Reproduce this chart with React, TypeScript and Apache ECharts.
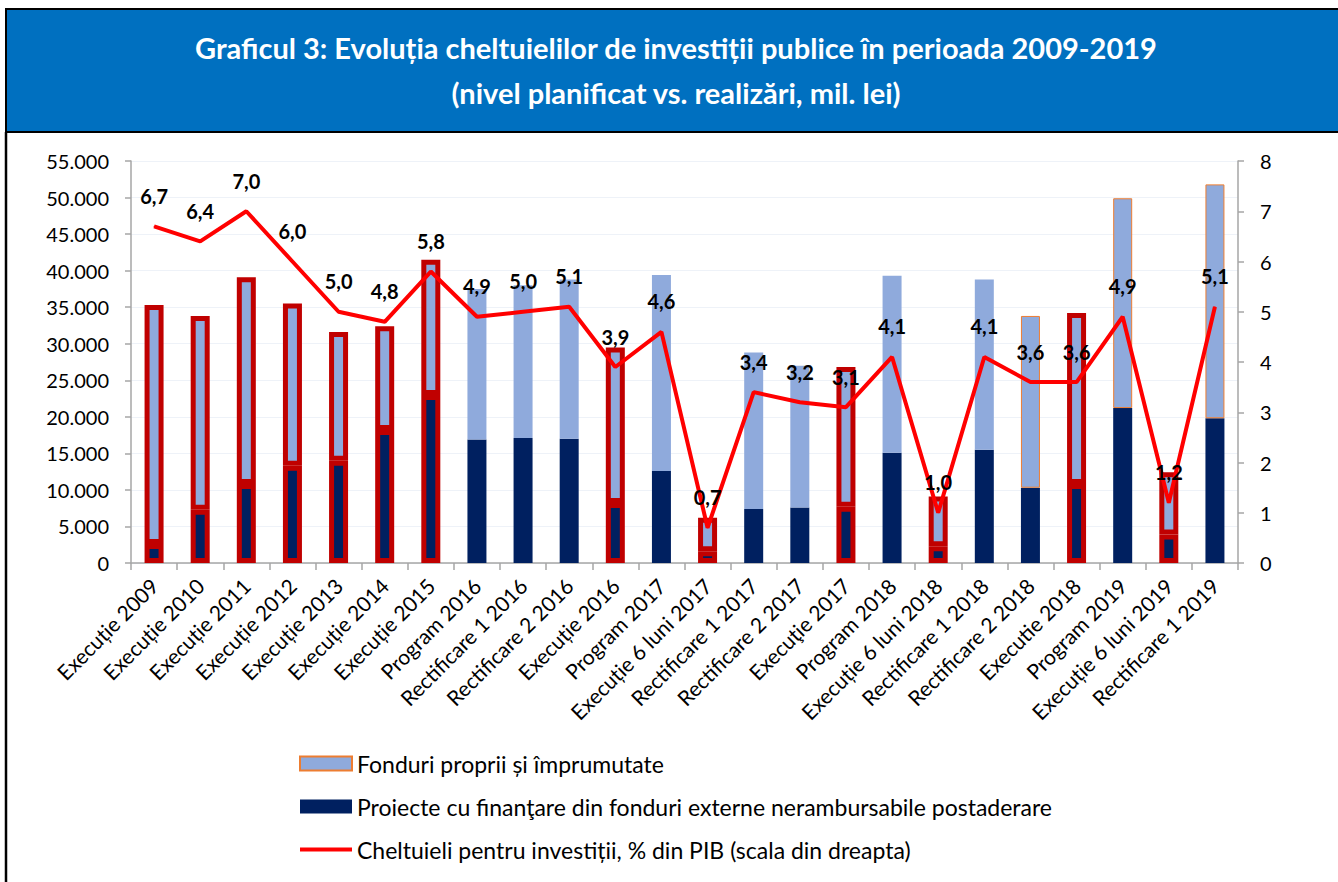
import React, { useEffect, useRef } from "react";
import * as echarts from "echarts";

const categories = [
  "Execuție 2009", "Execuție 2010", "Execuție 2011", "Execuție 2012", "Execuție 2013",
  "Execuție 2014", "Execuție 2015", "Program 2016", "Rectificare 1 2016", "Rectificare 2 2016",
  "Execuție 2016", "Program 2017", "Execuție 6 luni 2017", "Rectificare 1 2017", "Rectificare 2 2017",
  "Execuţie 2017", "Program 2018", "Execuție 6 luni 2018", "Rectificare 1 2018", "Rectificare 2 2018",
  "Executie 2018", "Program 2019", "Execuție 6 luni 2019", "Rectificare 1 2019",
];

// Proiecte cu finanțare din fonduri externe nerambursabile postaderare (mil. lei)
const externalFunds = [
  2600, 7300, 10800, 13300, 14000, 18200, 23000, 16900, 17100, 17000,
  8200, 12600, 1600, 7400, 7600, 7700, 15100, 2300, 15500, 10300,
  10800, 21200, 3900, 19800,
];

// Fonduri proprii și împrumutate (mil. lei)
const ownFunds = [
  32700, 26500, 28300, 22200, 17600, 14200, 18500, 20600, 20900, 21800,
  21300, 26800, 4600, 21400, 19400, 19100, 24200, 6800, 23300, 23500,
  23400, 28700, 8500, 32000,
];

// Cheltuieli pentru investiții, % din PIB
const pctGdp = [
  6.7, 6.4, 7.0, 6.0, 5.0, 4.8, 5.8, 4.9, 5.0, 5.1,
  3.9, 4.6, 0.7, 3.4, 3.2, 3.1, 4.1, 1.0, 4.1, 3.6,
  3.6, 4.9, 1.2, 5.1,
];

// categories that are executions (outlined in dark red)
const executionIdx = [0, 1, 2, 3, 4, 5, 6, 10, 12, 15, 17, 20, 22];
// categories whose own-funds bar has a thin orange outline
const orangeIdx = [19, 21, 23];

const leftTicks = { min: 0, max: 55000, interval: 5000 };
const rightTicks = { min: 0, max: 8, interval: 1 };

const FONT = "Lato, 'Open Sans', sans-serif";
const LIGHT = "#8FAADC";
const DARK = "#002060";
const RED_BORDER = "#C00000";
const ORANGE = "#ED7D31";

const fmtThousands = (v: number) =>
  String(Math.round(v)).replace(/\B(?=(\d{3})+(?!\d))/g, ".");

export default function App() {
  const ref = useRef<HTMLDivElement>(null);

  useEffect(() => {
    if (!ref.current) return;
    const chart = echarts.init(ref.current, null, { renderer: "svg" });

    const names = {
      own: "Fonduri proprii și împrumutate",
      ext: "Proiecte cu finanţare din fonduri externe nerambursabile postaderare",
      pct: "Cheltuieli pentru investiții, % din PIB (scala din dreapta)",
    };

    const extData = externalFunds.map((v, i) => ({
      value: v,
      itemStyle: executionIdx.includes(i)
        ? { color: DARK, borderColor: RED_BORDER, borderWidth: 5 }
        : { color: DARK, borderWidth: 0 },
    }));
    const ownData = ownFunds.map((v, i) => ({
      value: v,
      itemStyle: executionIdx.includes(i)
        ? { color: LIGHT, borderColor: RED_BORDER, borderWidth: 5 }
        : orangeIdx.includes(i)
        ? { color: LIGHT, borderColor: ORANGE, borderWidth: 1 }
        : { color: LIGHT, borderWidth: 0 },
    }));

    chart.setOption({
      animation: false,
      backgroundColor: "#ffffff",
      textStyle: { fontFamily: FONT },
      graphic: [
        {
          type: "rect",
          shape: { x: 6, y: 9, width: 1340, height: 123 },
          style: { fill: "#0070C0", stroke: "#000000", lineWidth: 2 },
          z: 0,
        },
        {
          type: "line",
          shape: { x1: 6, y1: 132, x2: 6, y2: 882 },
          style: { stroke: "#000000", lineWidth: 2.5 },
        },
        {
          type: "text",
          x: 676,
          y: 47,
          style: {
            text: "Graficul 3: Evoluția cheltuielilor de investiții publice în perioada 2009-2019",
            fill: "#ffffff",
            font: `bold 29px ${FONT}`,
            align: "center",
            verticalAlign: "middle",
          },
          z: 5,
        },
        {
          type: "text",
          x: 676,
          y: 92,
          style: {
            text: "(nivel planificat vs. realizări, mil. lei)",
            fill: "#ffffff",
            font: `bold 29px ${FONT}`,
            align: "center",
            verticalAlign: "middle",
          },
          z: 5,
        },
      ],
      grid: { left: 131, right: 100, top: 161, bottom: 319, containLabel: false },
      legend: {
        orient: "vertical",
        left: 299,
        top: 752,
        padding: 0,
        itemWidth: 52,
        itemHeight: 14,
        itemGap: 20,
        selectedMode: false,
        textStyle: { fontSize: 23, color: "#000000", fontFamily: FONT, lineHeight: 23 },
        data: [
          { name: names.own, icon: "rect" },
          { name: names.ext, icon: "rect" },
          {
            name: names.pct,
            icon: "path://M0,0 L52,0 L52,4 L0,4 Z",
            itemStyle: { color: "#FF0000", borderWidth: 0 },
          },
        ],
      },
      xAxis: {
        type: "category",
        data: categories,
        boundaryGap: true,
        axisLine: { show: true, lineStyle: { color: "#A6A6A6", width: 1.5 } },
        axisTick: { show: true, length: 7, lineStyle: { color: "#A6A6A6", width: 1.5 } },
        axisLabel: {
          rotate: 45,
          interval: 0,
          margin: 19,
          fontSize: 21,
          color: "#000000",
          fontFamily: FONT,
        },
      },
      yAxis: [
        {
          type: "value",
          min: leftTicks.min,
          max: leftTicks.max,
          interval: leftTicks.interval,
          axisLine: { show: true, lineStyle: { color: "#A6A6A6", width: 1.5 } },
          axisTick: { show: true, length: 6, lineStyle: { color: "#A6A6A6", width: 1.5 } },
          splitLine: { show: true, lineStyle: { color: "#EEF2F8", width: 1 } },
          axisLabel: {
            fontSize: 20,
            color: "#000000",
            margin: 22,
            fontFamily: FONT,
            formatter: (v: number) => fmtThousands(v),
          },
        },
        {
          type: "value",
          min: rightTicks.min,
          max: rightTicks.max,
          interval: rightTicks.interval,
          position: "right",
          axisLine: { show: true, lineStyle: { color: "#A6A6A6", width: 1.5 } },
          axisTick: { show: true, length: 6, lineStyle: { color: "#A6A6A6", width: 1.5 } },
          splitLine: { show: false },
          axisLabel: { fontSize: 20, color: "#000000", margin: 22, fontFamily: FONT },
        },
      ],
      series: [
        {
          name: names.ext,
          type: "bar",
          stack: "total",
          barWidth: 19,
          itemStyle: { color: DARK },
          data: extData,
          z: 2,
        },
        {
          name: names.own,
          type: "bar",
          stack: "total",
          barWidth: 19,
          itemStyle: { color: LIGHT, borderColor: ORANGE, borderWidth: 1 },
          data: ownData,
          z: 2,
        },
        {
          name: names.pct,
          type: "line",
          yAxisIndex: 1,
          data: pctGdp,
          symbol: "circle",
          symbolSize: 1,
          showSymbol: true,
          lineStyle: { color: "#FF0000", width: 4 },
          itemStyle: { color: "#FF0000" },
          z: 5,
          label: {
            show: true,
            position: "top",
            distance: 20,
            fontSize: 20,
            fontWeight: "bold",
            color: "#000000",
            fontFamily: FONT,
            formatter: (p: any) => Number(p.value).toFixed(1).replace(".", ","),
          },
        },
      ],
    });

    return () => chart.dispose();
  }, []);

  return (
    <div
      ref={ref}
      style={{ position: "absolute", left: 0, top: 0, width: 1338, height: 882 }}
    />
  );
}
